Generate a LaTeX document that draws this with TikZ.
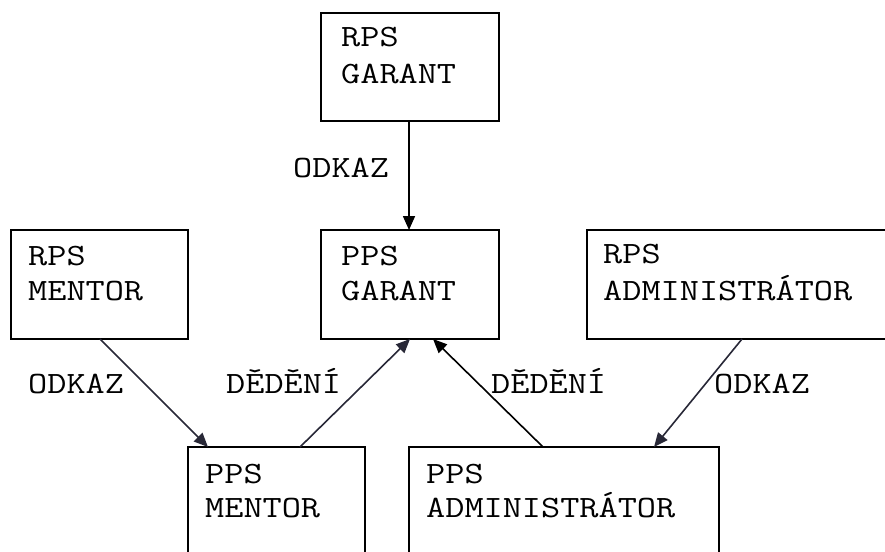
\documentclass[tikz,border=0pt]{standalone}
\usepackage{fontspec}
\setmainfont[FakeStretch=1.2]{Latin Modern Mono}
\usetikzlibrary{arrows.meta}
\begin{document}
\begin{tikzpicture}[x=1pt,y=-1pt,
  box/.style={draw=black,line width=2pt,anchor=north west,inner sep=0pt,outer sep=0pt},
  txt/.style={anchor=base west,inner sep=0pt,font=\fontsize{31}{36}\selectfont},
  conn/.style={line width=1.6pt,draw={rgb,255:red,40;green,40;blue,55},-{Triangle[length=14pt,width=12pt]}}]
\clip (0,0) rectangle (885,551);
% boxes
\node[box,minimum width=178pt,minimum height=108pt] (rg) at (321,13) {};
\node[box,minimum width=178pt,minimum height=109pt] (pg) at (321,230) {};
\node[box,minimum width=177pt,minimum height=109pt] (rm) at (11,230) {};
\node[box,minimum width=310pt,minimum height=109pt] (ra) at (587,230) {};
\node[box,minimum width=177pt,minimum height=130pt] (pm) at (188,447) {};
\node[box,minimum width=310pt,minimum height=130pt] (pa) at (409,447) {};
% box texts
\node[txt] (rg1) at (341,47) {RPS};
\node[txt] (rg2) at (341,83) {GARANT};
\node[txt] (pg1) at (341,265) {PPS};
\node[txt] (pg2) at (341,300) {GARANT};
\node[txt] (rm1) at (28,265) {RPS};
\node[txt] (rm2) at (28,300) {MENTOR};
\node[txt] (ra1) at (603,263) {RPS};
\node[txt] (ra2) at (603,300) {ADMINISTRÁTOR};
\node[txt] (pm1) at (205,483) {PPS};
\node[txt] (pm2) at (205,517) {MENTOR};
\node[txt] (pa1) at (426,483) {PPS};
\node[txt] (pa2) at (426,517) {ADMINISTRÁTOR};
% labels
\node[txt] (l1) at (293,177) {ODKAZ};
\node[txt] (l2) at (28,393) {ODKAZ};
\node[txt] (l3) at (226,393) {DĚDĚNÍ};
\node[txt] (l4) at (491,393) {DĚDĚNÍ};
\node[txt] (l5) at (714,393) {ODKAZ};
% connectors
\draw[conn,draw=black] ([xshift=88pt]rg.south west) -- ([xshift=88pt]pg.north west);
\draw[conn] ([xshift=89pt]rm.south west) -- ([xshift=20pt]pm.north west);
\draw[conn] ([xshift=112pt]pm.north west) -- ([xshift=89pt]pg.south west);
\draw[conn,draw=black] ([xshift=134pt]pa.north west) -- ([xshift=112pt]pg.south west);
\draw[conn] ([xshift=155pt]ra.south west) -- ([xshift=245pt]pa.north west);
\end{tikzpicture}
\end{document}
